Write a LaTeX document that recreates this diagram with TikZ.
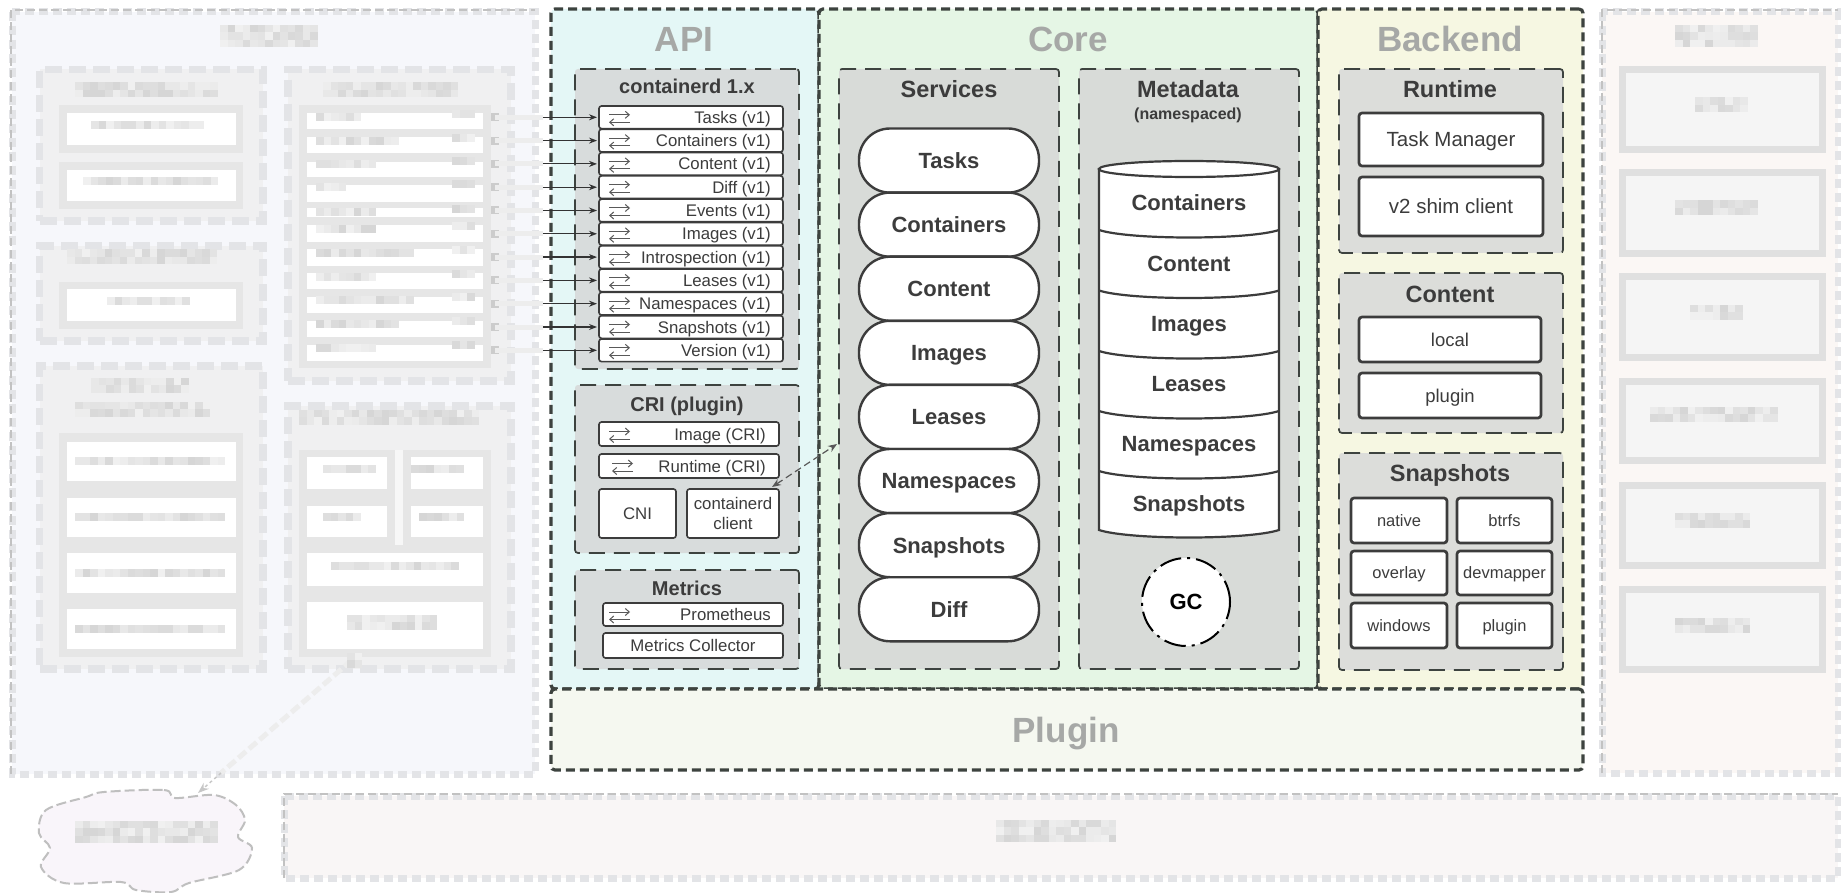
\documentclass[tikz,border=0pt]{standalone}
\usepackage{fontspec}
\setmainfont{Liberation Sans}
\usetikzlibrary{arrows.meta}
\definecolor{frameC}{HTML}{3D433F}
\definecolor{apiF}{HTML}{E4F7F6}
\definecolor{coreF}{HTML}{E5F6E5}
\definecolor{backF}{HTML}{F6F7E2}
\definecolor{plugF}{HTML}{F5F8F0}
\definecolor{clientF}{HTML}{F6F7FB}
\definecolor{shimF}{HTML}{FBF7F5}
\definecolor{sysF}{HTML}{F9F6F6}
\definecolor{regF}{HTML}{F9F5FA}
\definecolor{grpA}{HTML}{D8DCDC}
\definecolor{grpC}{HTML}{D8DBD8}
\definecolor{grpB}{HTML}{DCDDDA}
\definecolor{inkC}{HTML}{3C3C3C}
\definecolor{headC}{HTML}{A6A8A6}
\definecolor{paleB}{HTML}{E3E4E7}
\definecolor{paleG}{HTML}{F0F0F1}
\definecolor{paleI}{HTML}{E6E6E6}
\newcommand\mybox[7]{\node[#1,anchor=north west,inner sep=0pt,outer sep=0pt,minimum width={(#5-#3)*1pt},minimum height={(#6-#4)*1pt}] (#2) at (#3,#4) {#7};}
\newcommand\swapicon[2]{%
  \draw[swapln] ({#1},{#2-2.5}) -- ({#1+21},{#2-2.5});
  \draw[swapln] ({#1+21},{#2+5}) -- ({#1},{#2+5});}
% a pale pixel smudge: text of the reference that is too blurred to read
\newcommand\smudge[4]{%
  \pgfmathsetmacro\smn{#1+7.5}%
  \pgfmathtruncatemacro\smr{max(round(#4/7.5),1)-1}%
  \foreach \cx in {#1,\smn,...,#2}{%
    \foreach \rw in {0,...,\smr}{%
      \pgfmathtruncatemacro\smk{6+random(0,10)}%
      \fill[black!\smk] (\cx,{#3-(\smr+1)*3.75+\rw*7.5}) rectangle ++(7.5,7.5);
    }%
  }}
\tikzset{
  tx/.code={\pgfmathsetmacro\tmph{0.72*#1}\pgfkeysalso{/tikz/font=\fontsize{#1}{#1}\selectfont,/tikz/text height=\tmph pt,/tikz/text depth=0pt}},
  txb/.code={\pgfmathsetmacro\tmph{0.72*#1}\pgfkeysalso{/tikz/font=\fontsize{#1}{#1}\selectfont\bfseries,/tikz/text height=\tmph pt,/tikz/text depth=0pt}},
  bfs/.style={font=\fontsize{#1}{#1}\selectfont\bfseries,anchor=base,inner sep=0pt},
  layer/.style={draw=frameC,line width=3.2pt,dash pattern=on 9pt off 5pt,rounded corners=4pt},
  grp/.style={draw=frameC,line width=1.7pt,dash pattern=on 16pt off 9pt,rounded corners=3pt},
  rowbox/.style={draw=inkC,fill=white,line width=1.6pt,rounded corners=2.5pt},
  solidbox/.style={draw=inkC,fill=white,line width=2.7pt,rounded corners=3pt},
  pill/.style={draw=inkC,fill=white,line width=2.4pt,rounded corners=31pt},
  swapln/.style={draw=inkC!85,line width=1pt,-{Straight Barb[length=4pt,width=7pt]}},
  conn/.style={draw=black!80,line width=1.2pt,-{Stealth[length=8pt,width=6pt]}},
  paleconn/.style={draw=black!7,line width=5pt},
  paleouter/.style={draw=paleB,line width=7pt,dash pattern=on 9pt off 5pt},
  palethin/.style={draw=black!24,line width=2pt,dash pattern=on 8pt off 4pt},
  palegrp/.style={fill=paleG,draw=paleB,line width=7.5pt,dash pattern=on 17pt off 7pt},
  whitecell/.style={fill=white},
  shimbox/.style={fill=black!4,draw=black!12,line width=7pt},
  ink/.style={text=inkC},
  head/.style={text=headC}
}
\begin{document}
\begin{tikzpicture}[x=1pt,y=-1pt]
\useasboundingbox (0,0) rectangle (1841,893);
\fill[white] (0,0) rectangle (1841,893);
\pgfmathsetseed{7}

% ---------- Client (blurred)
\mybox{fill=clientF}{client}{12}{12}{535}{774}{}
\draw[paleouter] (12,12) rectangle (535,774);
\draw[palethin] (11,774) -- (11,10) -- (535,10);
\smudge{220}{314}{36}{22}

\mybox{palegrp}{components}{39.5}{69.5}{263}{221}{}
\smudge{75}{211}{90}{15}
\mybox{fill=paleI}{cA}{59}{105}{243}{153}{}
\mybox{whitecell}{cAw}{67}{113}{236}{145}{}
\smudge{91}{203}{125}{8}
\mybox{fill=paleI}{cB}{59}{162}{243}{209}{}
\mybox{whitecell}{cBw}{67}{170}{236}{201}{}
\smudge{83}{211}{181}{8}

\mybox{palegrp}{events}{39.5}{246}{263}{341}{}
\smudge{67}{211}{257}{15}
\mybox{fill=paleI}{eA}{59}{282}{243}{329}{}
\mybox{whitecell}{eAw}{67}{289}{236}{321}{}
\smudge{107}{187}{301}{8}

\mybox{palegrp}{cmgmt}{39.5}{366}{263}{669}{}
\smudge{91}{187}{385}{15}
\smudge{75}{203}{409}{15}
\mybox{fill=paleI}{mBand}{59}{433}{243}{657}{}
\mybox{whitecell}{mA}{67}{442}{236}{481}{}
\mybox{whitecell}{mB}{67}{498}{236}{537}{}
\mybox{whitecell}{mC}{67}{553}{236}{593}{}
\mybox{whitecell}{mD}{67}{609}{236}{649}{}
\smudge{75}{219}{461}{8}
\smudge{75}{219}{517}{8}
\smudge{75}{219}{573}{8}
\smudge{75}{219}{629}{8}

\mybox{palegrp}{proxy}{288}{69.5}{511}{381}{}
\smudge{323}{451}{90}{15}
\mybox{fill=paleI}{pBand}{299}{105}{491}{368}{}
\foreach \ya/\yb/\xe/\ym in {113/129/355/117,137/153/395/141,162/177/371/164,185/202/339/187,208/217/371/212,225/242/371/229,249/266/411/253,273/289/371/277,297/313/411/300,321/337/395/324,345/361/371/348}{
  \mybox{whitecell}{pr\ya}{307}{\ya}{483}{\yb}{}
  \smudge{316}{\xe}{\ym}{8}
  \smudge{452}{468}{\ym-3}{8}
}

\mybox{palegrp}{imgdist}{288}{406}{511}{669}{}
\smudge{299}{475}{417}{15}
\mybox{fill=paleI}{iBand}{299}{450}{491}{657}{}
\mybox{fill=black!3}{iGap}{395}{450}{403}{545}{}
\mybox{whitecell}{iA}{307}{457}{387}{489}{}
\mybox{whitecell}{iB}{411}{457}{483}{489}{}
\mybox{whitecell}{iC}{307}{506}{387}{537}{}
\mybox{whitecell}{iD}{411}{506}{483}{537}{}
\mybox{whitecell}{iE}{307}{553}{483}{586}{}
\mybox{whitecell}{iF}{307}{602}{483}{649}{}
\smudge{323}{371}{469}{8}
\smudge{411}{459}{469}{8}
\smudge{323}{355}{517}{8}
\smudge{419}{459}{517}{8}
\smudge{331}{451}{566}{8}
\smudge{347}{435}{622}{15}

% ---------- Shims (blurred)
\mybox{fill=shimF}{shims}{1602}{12}{1838}{773}{}
\draw[paleouter] (1602,12) rectangle (1838,773);
\draw[palethin] (1602,773) -- (1602,10) -- (1838,10);
\smudge{1675}{1755}{36}{22}
\foreach \ya/\yb/\xa/\xb/\ym in {69.5/149.5/1695/1745/105,172.5/253.5/1675/1755/208,276.5/357.5/1690/1737/312,381.5/460.5/1650/1777/414,485.5/565.5/1675/1747/520,589.5/669.5/1675/1747/625}{
  \mybox{shimbox}{sh\ya}{1622.5}{\ya}{1822.5}{\yb}{}
  \smudge{\xa}{\xb}{\ym}{15}
}

% ---------- System and Registry (blurred)
\mybox{fill=sysF}{system}{284}{796}{1838}{878}{}
\draw[paleouter] (284,796) rectangle (1838,878);
\draw[palethin] (284,878) -- (284,794) -- (1838,794);
\smudge{996}{1113}{831}{22}

\draw[fill=regF,draw=black!25,line width=2pt,dash pattern=on 10pt off 4pt]
  plot[smooth cycle,tension=.55] coordinates {(104,792) (164,790) (175,798) (214,795) (236,805) (245,820) (238,837) (252,848) (239,870) (189,883) (171,892) (136,890) (121,882) (64,883) (41,867) (50,848) (39,833) (46,810) (86,797)};
\smudge{75}{211}{832}{22}

\coordinate (imgOut) at (352,660);
\coordinate (regMid) at (221,773);
\coordinate (regTip) at (198,793);
\draw[paleconn,dash pattern=on 10pt off 4pt] (imgOut) -- (regMid);
\draw[draw=black!22,line width=1.4pt,dashed,-{Stealth[length=11pt,width=8pt]}] (regMid) -- (regTip);
\smudge{347}{355}{660}{15}

% ---------- Layers
\mybox{fill=apiF,layer}{api}{551}{9}{819}{689}{}
\mybox{fill=coreF,layer}{core}{819}{9}{1318}{689}{}
\mybox{fill=backF,layer}{backend}{1318}{9}{1583}{689}{}
\mybox{fill=plugF,layer}{plugin}{551}{689}{1583}{770}{}
\node[bfs=35,head] (apiT) at (684,52) {API};
\node[bfs=35,head] (coreT) at (1068,52) {Core};
\node[bfs=35,head] (backT) at (1450,52) {Backend};
\node[bfs=35,head] (plugT) at (1066,742) {Plugin};

% ---------- API
\mybox{fill=grpA,grp}{ctrd}{575}{69}{799}{369}{}
\node[bfs=20,ink] (ctrdT) at (687,94) {containerd 1.x};
\foreach \t [count=\i] in {Tasks (v1),Containers (v1),Content (v1),Diff (v1),Events (v1),Images (v1),Introspection (v1),Leases (v1),Namespaces (v1),Snapshots (v1),Version (v1)}{
  \pgfmathsetmacro\ty{106+23.3*(\i-1)}
  \pgfmathsetmacro\cy{\ty+11.3}
  \mybox{rowbox}{r\i}{599}{\ty}{783}{\ty+22.6}{}
  \node[tx=16.8,ink,anchor=east,inner sep=0pt] (rl\i) at (771,\cy) {\t};
  \swapicon{609}{\cy}
  \coordinate (spq\i) at (495,\cy);
  \coordinate (cut\i) at (543,\cy);
  \fill[black!20] (491,\cy-4) rectangle (499,\cy+4);
  \draw[paleconn] (spq\i) -- (cut\i);
  \draw[conn,shorten >=2pt] (cut\i) -- (r\i.west);
}

\mybox{fill=grpA,grp}{cri}{575}{385}{799}{553}{}
\node[bfs=20,ink] (criT) at (687,411) {CRI (plugin)};
\mybox{rowbox}{crImg}{599}{422}{779}{446}{}
\node[tx=16.8,ink,anchor=east,inner sep=0pt] (crImgL) at (766,434) {Image (CRI)};
\swapicon{609}{434}
\mybox{rowbox}{crRun}{599}{454}{779}{478}{}
\node[tx=16.8,ink,anchor=east,inner sep=0pt] (crRunL) at (766,466) {Runtime (CRI)};
\swapicon{612}{466}
\mybox{rowbox,tx=16.8,ink}{cni}{599}{489}{676}{538}{CNI}
\mybox{rowbox,ink,font=\fontsize{16.8}{20}\selectfont,align=center}{cclient}{687}{489}{779}{538}{containerd\\client}

\mybox{fill=grpA,grp}{metrics}{575}{570}{799}{669}{}
\node[bfs=20,ink] (metT) at (687,595) {Metrics};
\mybox{rowbox}{prom}{603}{603}{783}{626}{}
\node[tx=16.8,ink,anchor=east,inner sep=0pt] (promL) at (771,614.5) {Prometheus};
\swapicon{609}{614.5}
\mybox{rowbox,tx=16.8,ink}{mcoll}{603}{633}{783}{658}{Metrics Collector}

% ---------- Core
\mybox{fill=grpC,grp}{services}{839}{69}{1059}{669}{}
\node[bfs=23.5,ink] (svcT) at (949,98) {Services};
\foreach \t [count=\i] in {Tasks,Containers,Content,Images,Leases,Namespaces,Snapshots,Diff}{
  \pgfmathsetmacro\ty{128.5+64.1*(\i-1)}
  \mybox{pill,txb=22,ink}{p\i}{859}{\ty}{1039}{\ty+64.1}{\t}
}

\mybox{fill=grpC,grp}{metadata}{1079}{69}{1299}{669}{}
\node[bfs=23.5,ink] (metaT) at (1188,98) {Metadata};
\node[bfs=16,ink] (metaS) at (1188,119.5) {(namespaced)};
\path[draw=inkC,fill=white,line width=2.2pt] (1099,169) -- (1099,530) .. controls (1130,540) and (1248,540) .. (1279,530) -- (1279,169) -- cycle;
\draw[draw=inkC,fill=white,line width=2.2pt] (1189,169) ellipse [x radius=90pt,y radius=8pt];
\foreach \b in {230,290.5,351,411,471}{
  \draw[draw=inkC,line width=2.2pt] (1099,\b) .. controls (1130,\b+10) and (1248,\b+10) .. (1279,\b);
}
\foreach \t/\y [count=\i] in {Containers/203,Content/263.5,Images/324,Leases/384,Namespaces/444,Snapshots/504}{
  \node[txb=22,ink,inner sep=0pt] (db\i) at (1189,\y) {\t};
}
\node[circle,fill=white,draw=black,line width=2pt,dash pattern=on 22pt off 6pt on 3pt off 6pt,minimum size=88pt,inner sep=0pt,txb=22,text=black] (gc) at (1186,602) {GC};

\coordinate (ccEnd) at (772,487);
\coordinate (svcEnd) at (837,444);
\draw[draw=inkC!85,line width=1.2pt,dash pattern=on 7pt off 4pt,{Stealth[length=9pt,width=7pt]}-{Stealth[length=9pt,width=7pt]}] (ccEnd) -- (svcEnd);

% ---------- Backend
\mybox{fill=grpB,grp}{runtime}{1339}{69}{1563}{253}{}
\node[bfs=23.5,ink] (runT) at (1450,98) {Runtime};
\mybox{solidbox,tx=20.5,ink}{taskm}{1359}{113}{1543}{166}{Task Manager}
\mybox{solidbox,tx=20.5,ink}{shim}{1359}{177}{1543}{236}{v2 shim client}

\mybox{fill=grpB,grp}{content}{1339}{273}{1563}{433}{}
\node[bfs=23.5,ink] (conT) at (1450,302) {Content};
\mybox{solidbox,tx=18.5,ink}{local}{1359}{317}{1541}{362}{local}
\mybox{solidbox,tx=18.5,ink}{cplug}{1359}{373}{1541}{418}{plugin}

\mybox{fill=grpB,grp}{snaps}{1339}{453}{1563}{670}{}
\node[bfs=23.5,ink] (snapT) at (1450,481) {Snapshots};
\mybox{solidbox,tx=16.5,ink}{native}{1351}{498}{1447}{543}{native}
\mybox{solidbox,tx=16.5,ink}{btrfs}{1457}{498}{1552}{543}{btrfs}
\mybox{solidbox,tx=16.5,ink}{overlay}{1351}{551}{1447}{595}{overlay}
\mybox{solidbox,tx=16.5,ink}{devm}{1457}{551}{1552}{595}{devmapper}
\mybox{solidbox,tx=16.5,ink}{windows}{1351}{603}{1447}{648}{windows}
\mybox{solidbox,tx=16.5,ink}{splug}{1457}{603}{1552}{648}{plugin}
\end{tikzpicture}
\end{document}
